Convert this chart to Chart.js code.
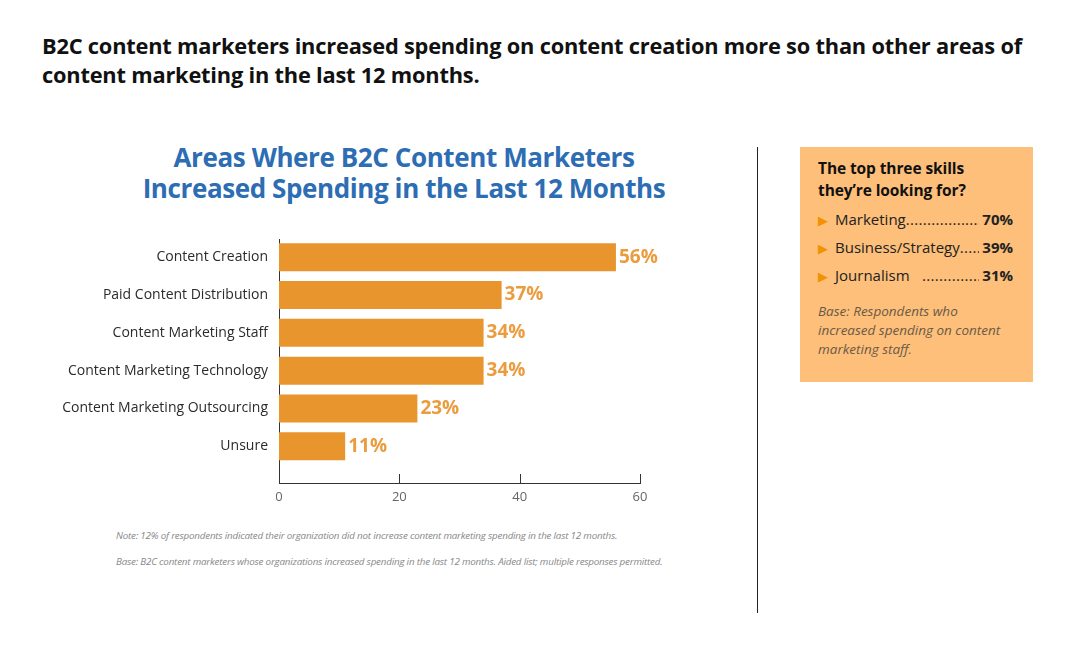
<!DOCTYPE html>
<html>
<head>
<meta charset="utf-8">
<script src="https://cdn.jsdelivr.net/npm/chart.js@4.4.1/dist/chart.umd.min.js"></script>
<style>
  body { margin: 0; background: #fff; font-family: "Open Sans", sans-serif; }
  #page { position: relative; width: 1079px; height: 650px; overflow: hidden; }
  .headline { position: absolute; left: 42px; top: 31px; font-size: 21.8px; font-weight: 700; color: #111; line-height: 29px; letter-spacing: -0.2px; white-space: nowrap; }
  .ctitle { position: absolute; left: 104px; width: 600px; top: 142px; text-align: center; font-size: 26px; font-weight: 700; color: #2c6db3; line-height: 31px; letter-spacing: -0.4px; }
  .divider { position: absolute; left: 757px; top: 147px; width: 1px; height: 466px; background: #222; }
  .box { position: absolute; left: 800px; top: 147px; width: 233px; height: 235px; background: #fdbf79; }
  .box h3 { position: absolute; left: 18px; top: 10px; margin: 0; font-size: 15.5px; line-height: 22px; font-weight: 700; color: #111; letter-spacing: -0.1px; }
  .item { position: absolute; left: 18px; width: 195px; font-size: 15px; color: #222; display: flex; white-space: nowrap; }
  .item .tri { color: #f39200; font-size: 13px; width: 17px; line-height: 22px; }
  .item .dots { flex: 1; overflow: hidden; letter-spacing: 0.3px; }
  .item .pct { font-weight: 700; padding-left: 3px; }
  .base { position: absolute; left: 18px; top: 155px; width: 215px; font-size: 13.5px; font-style: italic; color: #6a5a48; line-height: 19px; }
  .note { position: absolute; left: 116px; font-size: 9.8px; font-style: italic; color: #888; letter-spacing: -0.2px; white-space: nowrap; }
  #wrap { position: absolute; left: 40px; top: 220px; width: 680px; height: 290px; }
</style>
</head>
<body>
<div id="page">
  <div class="headline">B2C content marketers increased spending on content creation more so than other areas of<br>content marketing in the last 12 months.</div>
  <div class="ctitle">Areas Where B2C Content Marketers<br>Increased Spending in the Last 12 Months</div>
  <div class="divider"></div>
  <div class="box">
    <h3>The top three skills<br>they’re looking for?</h3>
    <div class="item" style="top:62px"><span class="tri">&#9654;</span><span>Marketing</span><span class="dots">......................</span><span class="pct">70%</span></div>
    <div class="item" style="top:90px"><span class="tri">&#9654;</span><span>Business/Strategy</span><span class="dots"> ......................</span><span class="pct">39%</span></div>
    <div class="item" style="top:118px"><span class="tri">&#9654;</span><span>Journalism</span><span class="dots">&nbsp;&nbsp; ......................</span><span class="pct">31%</span></div>
    <div class="base">Base: Respondents who<br>increased spending on content<br>marketing staff.</div>
  </div>
  <div class="note" style="top:529px">Note: 12% of respondents indicated their organization did not increase content marketing spending in the last 12 months.</div>
  <div class="note" style="top:555px">Base: B2C content marketers whose organizations increased spending in the last 12 months. Aided list; multiple responses permitted.</div>
  <div id="wrap"><canvas id="chart"></canvas></div>
</div>
<script>
const categories = ["Content Creation", "Paid Content Distribution", "Content Marketing Staff", "Content Marketing Technology", "Content Marketing Outsourcing", "Unsure"];
const values = [56, 37, 34, 34, 23, 11];
const xTicks = [0, 20, 40, 60];

const barColor = "#e8952e";
const labelColor = "#eb9c3f";

const valueLabels = {
    id: "valueLabels",
    afterDatasetsDraw(chart) {
        const ctx = chart.ctx;
        ctx.save();
        ctx.font = "bold 19px 'Open Sans'";
        ctx.fillStyle = labelColor;
        ctx.textBaseline = "middle";
        chart.getDatasetMeta(0).data.forEach((bar, i) => {
            ctx.fillText(values[i] + "%", bar.x + 3, bar.y);
        });
        ctx.restore();
    },
};

// small tick marks pointing up from the x axis
const innerTicks = {
    id: "innerTicks",
    afterDraw(chart) {
        const ctx = chart.ctx;
        const xs = chart.scales.x;
        const bottom = chart.chartArea.bottom;
        ctx.save();
        ctx.strokeStyle = "#333";
        ctx.lineWidth = 1;
        xTicks.forEach((t) => {
            const px = Math.round(xs.getPixelForValue(t)) + 0.5;
            ctx.beginPath();
            ctx.moveTo(px, bottom);
            ctx.lineTo(px, bottom - 9);
            ctx.stroke();
        });
        ctx.restore();
    },
};

new Chart(document.getElementById("chart"), {
    type: "bar",
    data: {
        datasets: [
            {
                data: values.map((v, i) => ({ x: v, y: i })),
                backgroundColor: barColor,
                borderWidth: 0,
                barPercentage: 0.74,
                categoryPercentage: 1,
            },
        ],
    },
    plugins: [valueLabels, innerTicks],
    options: {
        indexAxis: "y",
        responsive: true,
        maintainAspectRatio: false,
        animation: false,
        layout: { padding: { top: 17, right: 80, left: 0, bottom: 0 } },
        plugins: {
            legend: { display: false },
            tooltip: { enabled: false },
        },
        scales: {
            y: {
                type: "linear",
                reverse: true,
                offset: false,
                min: -0.47,
                max: 5.97,
                afterBuildTicks(scale) {
                    scale.ticks = categories.map((c, i) => ({ value: i }));
                },
                afterFit(scale) {
                    scale.width = 239;
                },
                grid: { display: false, drawTicks: false },
                border: { display: true, color: "#333", width: 1 },
                ticks: {
                    padding: 11,
                    color: "#2b2b2b",
                    font: { size: 14, family: "Open Sans" },
                    callback: (v) => categories[v],
                },
            },
            x: {
                min: 0,
                max: 60,
                afterBuildTicks(scale) {
                    scale.ticks = xTicks.map((t) => ({ value: t }));
                },
                afterFit(scale) {
                    scale.height = 27;
                },
                grid: { display: false, drawTicks: false },
                border: { display: true, color: "#333", width: 1 },
                ticks: {
                    padding: 6,
                    color: "#666",
                    font: { size: 13, family: "Open Sans" },
                },
            },
        },
    },
});
</script>
</body>
</html>
